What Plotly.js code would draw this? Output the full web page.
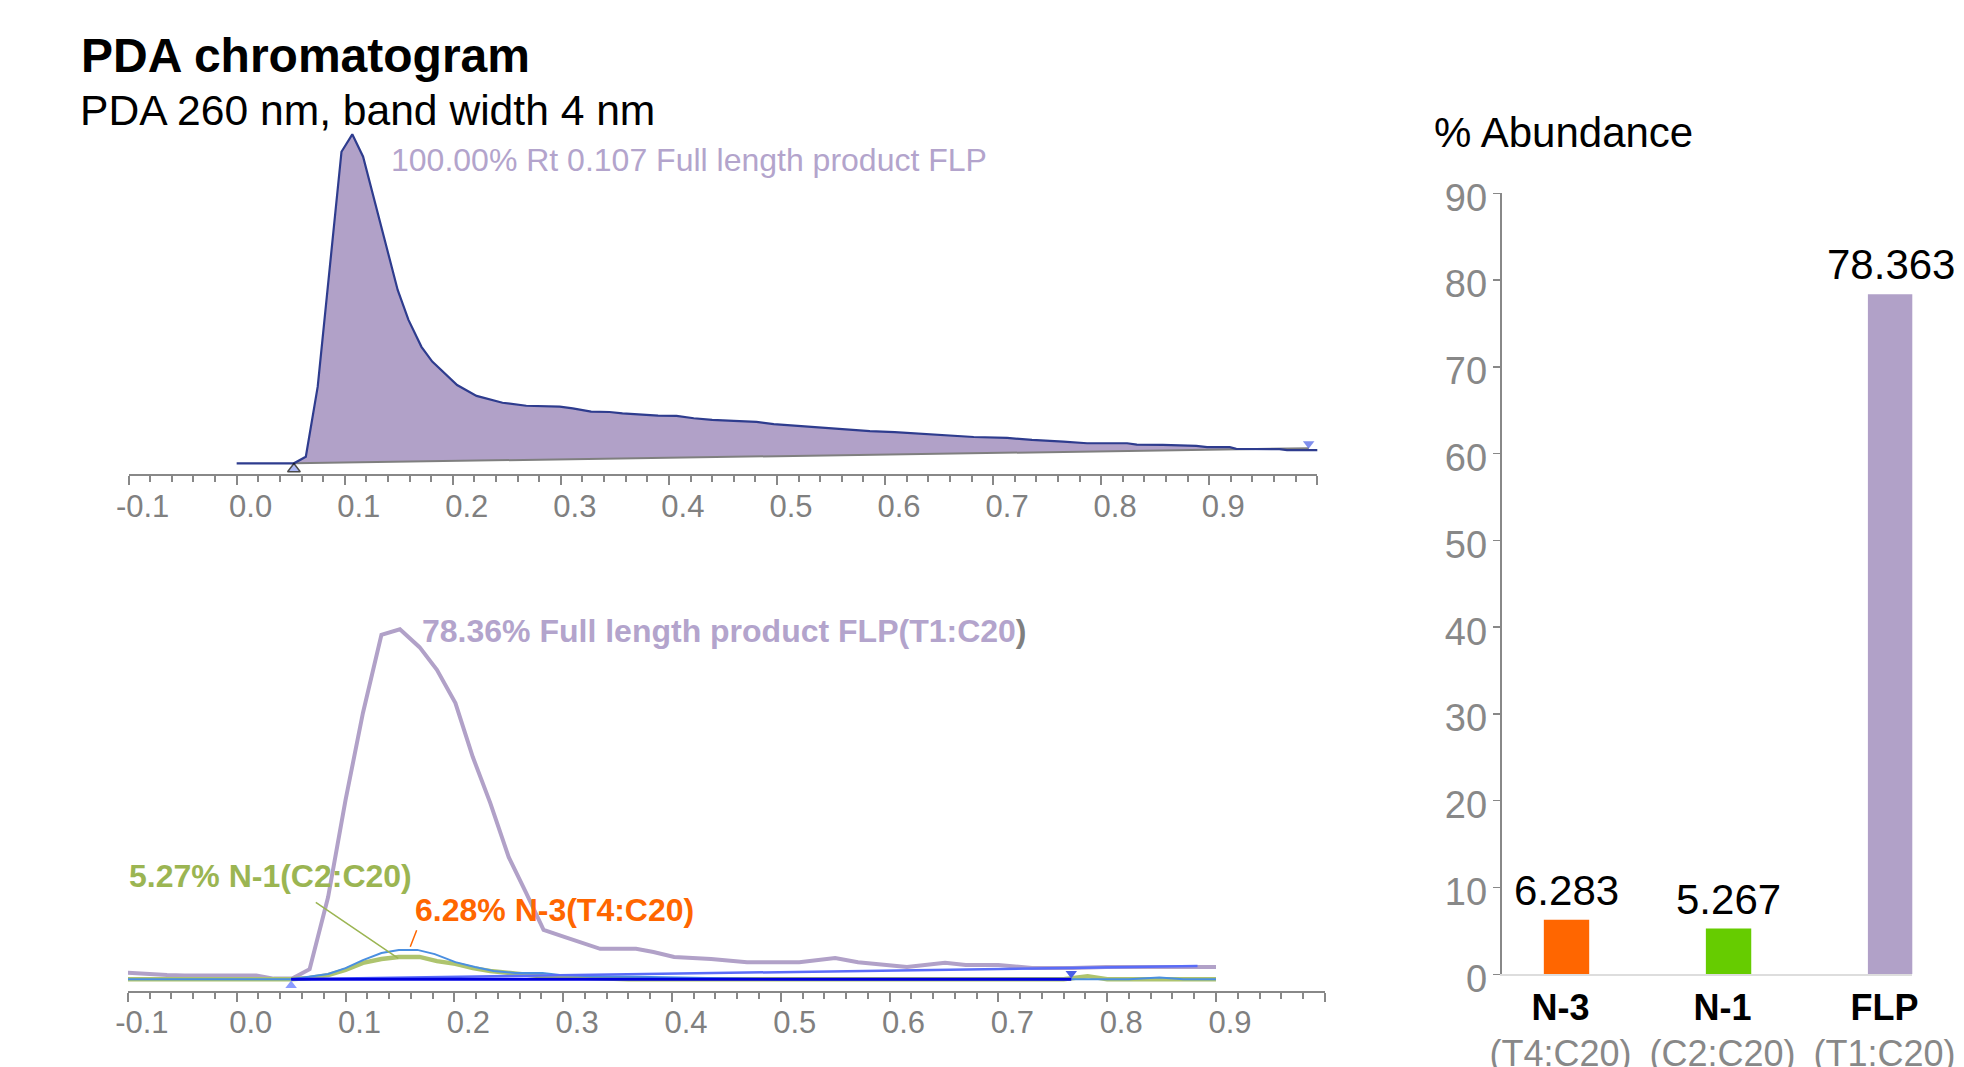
<!DOCTYPE html>
<html>
<head>
<meta charset="utf-8">
<script src="https://cdn.plot.ly/plotly-3.0.1.min.js"></script>
<style>
  html, body { margin: 0; padding: 0; background: #ffffff; }
  #chart { width: 1964px; height: 1067px; }
</style>
</head>
<body>
<div id="chart"></div>
<script>
// ---------------- DATA ----------------
// Top chromatogram (PDA 260 nm): retention time (min) and relative signal
const topTime = [0.000, 0.053, 0.064, 0.075, 0.097, 0.107, 0.117, 0.128, 0.149, 0.159, 0.171, 0.181, 0.192, 0.204, 0.222, 0.246, 0.268, 0.299, 0.311, 0.328, 0.345, 0.357, 0.390, 0.407, 0.423, 0.440, 0.460, 0.481, 0.497, 0.521, 0.544, 0.586, 0.609, 0.640, 0.682, 0.713, 0.736, 0.765, 0.787, 0.824, 0.833, 0.857, 0.888, 0.898, 0.919, 0.925, 0.965, 0.972, 0.992, 1.002];
const topSignal = [0, 0, 2.0, 23.3, 94.7, 100, 93.2, 79.1, 52.7, 43.6, 35.4, 30.9, 27.4, 23.8, 20.5, 18.4, 17.5, 17.2, 16.7, 15.7, 15.6, 15.2, 14.5, 14.4, 13.7, 13.2, 12.9, 12.6, 11.9, 11.3, 10.7, 9.8, 9.5, 8.9, 8.0, 7.7, 7.1, 6.6, 6.1, 6.1, 5.7, 5.6, 5.3, 4.9, 4.9, 4.4, 4.3, 4.0, 4.0, 4.0];
// integration baseline of the top peak
const topBaseTime = [0.053, 0.992];
const topBaseSignal = [0, 4.56];
// peak start / end markers
const topMarkTime = [0.053, 0.992];
const topMarkSignal = [-1.73, 5.96];
const topPeakLabel = "100.00% Rt 0.107 Full length product FLP";

// Bottom chromatogram: extracted traces
const flpTime = [-0.100, -0.081, -0.064, -0.048, 0.018, 0.034, 0.051, 0.067, 0.084, 0.100, 0.116, 0.133, 0.150, 0.168, 0.184, 0.201, 0.217, 0.233, 0.250, 0.266, 0.282, 0.301, 0.317, 0.334, 0.367, 0.383, 0.402, 0.420, 0.436, 0.469, 0.517, 0.550, 0.571, 0.616, 0.651, 0.670, 0.700, 0.731, 0.768, 0.799, 0.900];
const flpSignal = [1.9, 1.4, 1.2, 1.1, 1.1, 0.2, 0.2, 2.9, 23.5, 51.2, 76.1, 98.4, 100, 94.9, 88.4, 78.9, 63.5, 50.4, 34.9, 24.7, 14.1, 12.1, 10.4, 8.7, 8.7, 7.8, 6.4, 6.1, 5.8, 4.9, 4.9, 6.1, 4.9, 3.5, 4.7, 4.1, 4.1, 3.2, 3.2, 3.5, 3.5];
const n1Time = [-0.100, 0.050, 0.067, 0.084, 0.100, 0.116, 0.133, 0.149, 0.168, 0.184, 0.201, 0.217, 0.233, 0.250, 0.268, 0.284, 0.326, 0.360, 0.760, 0.782, 0.800, 0.900];
const n1Signal = [0, 0, 0.4, 1.2, 2.7, 4.7, 5.8, 6.4, 6.4, 5.2, 4.4, 3.2, 2.4, 1.8, 1.2, 0.7, 0.4, 0, 0, 0.9, 0, 0];
const n3Time = [-0.100, 0.050, 0.084, 0.100, 0.116, 0.133, 0.149, 0.166, 0.182, 0.201, 0.219, 0.236, 0.256, 0.281, 0.297, 0.326, 0.367, 0.426, 0.500, 0.820, 0.848, 0.870, 0.900];
const n3Signal = [0, 0, 1.5, 3.2, 5.5, 7.5, 8.4, 8.4, 7.2, 4.9, 3.5, 2.4, 1.8, 1.8, 1.2, 0.9, 0.7, 0.4, 0, 0, 0.5, 0, 0];
const botBaseTime = [0.050, 0.883];
const botBaseSignal = [0, 3.8];
const botFlatTime = [0.050, 0.767];
const botFlatSignal = [0, 0];
const botMarkTime = [0.050, 0.767];
const botMarkSignal = [-1.77, 1.66];
const flpLabel = "78.36% Full length product FLP(T1:C20";
const n1Label = "5.27% N-1(C2:C20)";
const n3Label = "6.28% N-3(T4:C20)";
// label anchor points (time, signal)
const flpLabelPos = [0.1705, 99.5];
const n1LabelPos = [-0.099, 29.5];
const n3LabelPos = [0.1636, 19.8];
const n1PeakPos = [0.1485, 6.0];
const n3PeakPos = [0.1595, 9.3];

// Time axis ticks
const timeTicks = [-0.1, 0.0, 0.1, 0.2, 0.3, 0.4, 0.5, 0.6, 0.7, 0.8, 0.9, 1.0];
const timeTickLabels = ["-0.1", "0.0", "0.1", "0.2", "0.3", "0.4", "0.5", "0.6", "0.7", "0.8", "0.9", ""];

// Abundance bar chart
const categories = ["N-3", "N-1", "FLP"];
const subLabels = ["(T4:C20)", "(C2:C20)", "(T1:C20)"];
const abundance = [6.283, 5.267, 78.363];
const barColors = ["#ff6600", "#66cc00", "#b1a1c8"];

// ---------------- STYLE ----------------
const FONT = "Liberation Sans, Arial, Helvetica, sans-serif";
const W = 1964, H = 1067;
const px = v => v / W;
const py = v => 1 - v / H;
const PURPLE = "#b1a1c8";
const GRAY = "#888888";

// Fill polygon for top peak, from curve between baseline start and end, closed along the baseline
const segIdx = topTime.map((t, i) => i).filter(i => topTime[i] >= topBaseTime[0] && topTime[i] <= topBaseTime[1]);
const fillX = segIdx.map(i => topTime[i]).concat(topBaseTime.slice().reverse());
const fillY = segIdx.map(i => topSignal[i]).concat(topBaseSignal.slice().reverse());

const traces = [
  // top panel
  { x: fillX, y: fillY, xaxis: "x", yaxis: "y", mode: "lines", fill: "toself",
    fillcolor: PURPLE, line: { width: 0 }, hoverinfo: "skip" },
  { x: topBaseTime, y: topBaseSignal, xaxis: "x", yaxis: "y", mode: "lines",
    line: { color: "#7f7f7f", width: 2 } },
  { x: topTime, y: topSignal, xaxis: "x", yaxis: "y", mode: "lines",
    line: { color: "#2e3c8e", width: 2.2 } },
  { x: topMarkTime, y: topMarkSignal, xaxis: "x", yaxis: "y", mode: "markers",
    marker: { symbol: ["triangle-up", "triangle-down"], size: [11, 10],
      color: ["#8a9cf2", "#4a5fe6"], line: { color: ["#000000", "#4a5fe6"], width: [1.5, 0] } } },
  // bottom panel
  { x: flpTime, y: flpSignal, xaxis: "x2", yaxis: "y2", mode: "lines",
    line: { color: PURPLE, width: 4 } },
  { x: n1Time, y: n1Signal, xaxis: "x2", yaxis: "y2", mode: "lines",
    line: { color: "#aec46e", width: 4.5 } },
  { x: n3Time, y: n3Signal, xaxis: "x2", yaxis: "y2", mode: "lines",
    line: { color: "#4a8fe0", width: 2 } },
  { x: botBaseTime, y: botBaseSignal, xaxis: "x2", yaxis: "y2", mode: "lines",
    line: { color: "#5a6cf8", width: 2.5 } },
  { x: botFlatTime, y: botFlatSignal, xaxis: "x2", yaxis: "y2", mode: "lines",
    line: { color: "#0000e0", width: 3 } },
  { x: botMarkTime, y: botMarkSignal, xaxis: "x2", yaxis: "y2", mode: "markers",
    marker: { symbol: ["triangle-up", "triangle-down"], size: 10,
      color: ["#8c9cff", "#4a5fe6"] } },
  // bars
  { type: "bar", x: categories, y: abundance, xaxis: "x3", yaxis: "y3",
    width: 0.28, marker: { color: barColors }, hoverinfo: "skip" }
];

const timeAxis = (domain) => ({
  domain: domain, range: [-0.1, 1.0], showgrid: false, zeroline: false,
  showline: true, linecolor: GRAY, linewidth: 2,
  tickmode: "array", tickvals: timeTicks, ticktext: timeTickLabels,
  ticks: "outside", ticklen: 9, tickwidth: 2, tickcolor: GRAY,
  ticklabelshift: 14, ticklabelstandoff: -6,
  minor: { tickmode: "linear", tick0: 0, dtick: 0.02, ticks: "outside", ticklen: 6, tickwidth: 2, tickcolor: GRAY, showgrid: false },
  tickfont: { family: FONT, size: 31, color: "#808080" }
});

const LEFTSHIFT = -2;
const annotations = [
  { xref: "paper", yref: "paper", x: px(81), y: py(110), xanchor: "left", yanchor: "middle",
    xshift: -3, text: "PDA 260 nm, band width 4 nm", showarrow: false,
    font: { family: FONT, size: 42.6, color: "#000000" } },
  { xref: "paper", yref: "paper", x: px(1434), y: py(132), xanchor: "left", yanchor: "middle",
    xshift: LEFTSHIFT, text: "% Abundance", showarrow: false,
    font: { family: FONT, size: 42, color: "#000000" } },
  { xref: "x", yref: "y", x: 0.1441, y: 92.2, xanchor: "left", yanchor: "middle",
    xshift: -3, text: topPeakLabel, showarrow: false,
    font: { family: FONT, size: 32, color: "#b3a4cc" } },
  { xref: "x2", yref: "y2", x: flpLabelPos[0], y: flpLabelPos[1], xanchor: "left", yanchor: "middle",
    xshift: LEFTSHIFT, text: "<b>" + flpLabel + "<span style='color:#7f7f7f'>)</span></b>", showarrow: false,
    font: { family: FONT, size: 32, color: "#b3a4cc" } },
  { xref: "x2", yref: "y2", x: n1LabelPos[0], y: n1LabelPos[1], xanchor: "left", yanchor: "middle",
    xshift: LEFTSHIFT, text: "<b>" + n1Label + "</b>", showarrow: false,
    font: { family: FONT, size: 32, color: "#9bb552" } },
  { xref: "x2", yref: "y2", x: n3LabelPos[0], y: n3LabelPos[1], xanchor: "left", yanchor: "middle",
    xshift: LEFTSHIFT, text: "<b>" + n3Label + "</b>", showarrow: false,
    font: { family: FONT, size: 32, color: "#ff6600" } },
  { xref: "x2", yref: "y2", x: n1PeakPos[0], y: n1PeakPos[1], text: "", showarrow: true,
    arrowhead: 0, arrowwidth: 1.5, arrowcolor: "#9bb552", ax: -84, ay: -57, standoff: 0 },
  { xref: "x2", yref: "y2", x: n3PeakPos[0], y: n3PeakPos[1], text: "", showarrow: true,
    arrowhead: 0, arrowwidth: 1.5, arrowcolor: "#ff6600", ax: 7, ay: -18, standoff: 0 }
];
categories.forEach((c, i) => {
  annotations.push({ xref: "x3", yref: "y3", x: c, y: abundance[i], yanchor: "bottom",
    yshift: 4, text: abundance[i].toFixed(3), showarrow: false,
    font: { family: FONT, size: 42, color: "#000000" } });
});

const layout = {
  width: W, height: H,
  margin: { l: 0, r: 0, t: 0, b: 0 },
  paper_bgcolor: "#ffffff", plot_bgcolor: "rgba(0,0,0,0)",
  showlegend: false,
  font: { family: FONT },
  title: { text: "<b>PDA chromatogram</b>", x: px(81), xanchor: "left",
    y: py(55), yanchor: "middle", yref: "container",
    font: { family: FONT, size: 48, color: "#000000" } },
  xaxis: Object.assign(timeAxis([px(128.6), px(1317.3)]), { anchor: "y" }),
  yaxis: { domain: [py(474.3), py(100)], range: [-3.343, 110.43], visible: false, anchor: "x" },
  xaxis2: Object.assign(timeAxis([px(127.9), px(1324.8)]), { anchor: "y2" }),
  yaxis2: { domain: [py(991), py(600)], range: [-3.343, 108.37], visible: false, anchor: "x2" },
  xaxis3: { domain: [px(1501.7), px(1912.3)], range: [-0.4, 2.134], anchor: "y3",
    type: "category", tickmode: "array", tickvals: categories,
    ticktext: categories.map((c, i) => "<b>" + c + "</b><br><span style='color:#888888'>" + subLabels[i] + "</span>"),
    showline: true, linecolor: "#dddddd", linewidth: 2, ticks: "", showgrid: false, zeroline: false,
    ticklabelshift: -6,
    tickfont: { family: FONT, size: 36, color: "#000000" } },
  yaxis3: { domain: [py(974.3), py(193.3)], range: [0, 90], anchor: "x3",
    dtick: 10, tick0: 0, showline: true, linecolor: GRAY, linewidth: 2,
    ticks: "outside", ticklen: 7, tickwidth: 1.5, tickcolor: GRAY,
    showgrid: false, zeroline: false, ticklabelshift: 4, ticklabelstandoff: -2,
    tickfont: { family: FONT, size: 38, color: GRAY } },
  annotations: annotations
};

Plotly.newPlot("chart", traces, layout, { displayModeBar: false, staticPlot: true });
</script>
</body>
</html>
